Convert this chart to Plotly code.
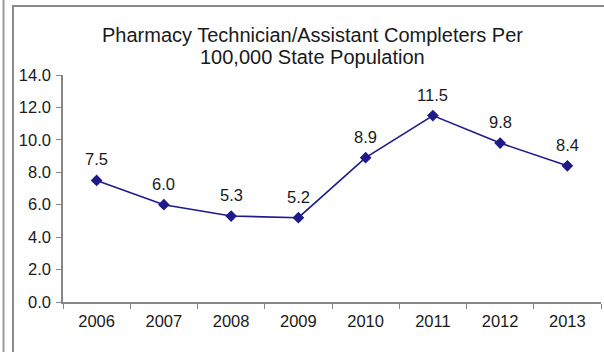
import plotly.graph_objects as go

years = ["2006", "2007", "2008", "2009", "2010", "2011", "2012", "2013"]
completers = [7.5, 6.0, 5.3, 5.2, 8.9, 11.5, 9.8, 8.4]
title_lines = ["Pharmacy Technician/Assistant Completers Per", "100,000 State Population"]

W, H = 604, 352
L, R, T, B = 63, 3, 75, 50
pw = W - L - R
ph = H - T - B

def px2x(px):
    return (px - L) / pw

def px2y(py):
    return (H - B - py) / ph

line_color = "#1E1A8A"
font = "Liberation Sans, Arial, sans-serif"
txt = "#1a1a1a"

fig = go.Figure()
fig.add_trace(go.Scatter(
    x=years, y=completers, mode="lines+markers",
    line=dict(color=line_color, width=1.6),
    marker=dict(symbol="diamond", size=9, color=line_color),
    hoverinfo="skip", showlegend=False,
))

for i, yv in enumerate(completers):
    fig.add_annotation(x=i, y=yv, xref="x", yref="y", text=f"{yv:.1f}",
                       showarrow=False, yshift=21,
                       font=dict(family=font, size=16.5, color=txt))

for line, cy in zip(title_lines, [34.5, 57]):
    fig.add_annotation(x=px2x(312), y=px2y(cy), xref="paper", yref="paper",
                       text=line, showarrow=False, xanchor="center", yanchor="middle",
                       font=dict(family=font, size=20, color=txt))

fig.update_layout(
    width=W, height=H,
    margin=dict(l=L, r=R, t=T, b=B),
    paper_bgcolor="white", plot_bgcolor="white",
    xaxis=dict(type="category", showgrid=False, showline=True, linecolor="#868686",
               linewidth=1.5, ticks="outside", ticklen=5, tickcolor="#868686",
               tickson="boundaries", range=[-0.5, 7.5], ticklabelstandoff=3,
               tickfont=dict(family=font, size=16.5, color=txt)),
    yaxis=dict(range=[0, 14], dtick=2, tickformat=".1f", showgrid=False,
               showline=True, linecolor="#868686", linewidth=1.5,
               ticks="outside", ticklen=5, tickcolor="#868686", zeroline=False,
               ticklabelstandoff=2,
               tickfont=dict(family=font, size=16.5, color=txt)),
    shapes=[
        dict(type="line", xref="paper", yref="paper",
             x0=px2x(3.5), x1=px2x(3.5), y0=px2y(0), y1=px2y(H),
             line=dict(color="#9a9a9a", width=2)),
        dict(type="line", xref="paper", yref="paper",
             x0=px2x(13), x1=px2x(13), y0=px2y(5), y1=px2y(H),
             line=dict(color="#8a8a8a", width=2)),
        dict(type="line", xref="paper", yref="paper",
             x0=px2x(12), x1=px2x(W), y0=px2y(6), y1=px2y(6),
             line=dict(color="#8a8a8a", width=2)),
    ],
)

fig.write_html("out.html", config={"displayModeBar": False},
               post_script="document.body.style.margin='0';")
